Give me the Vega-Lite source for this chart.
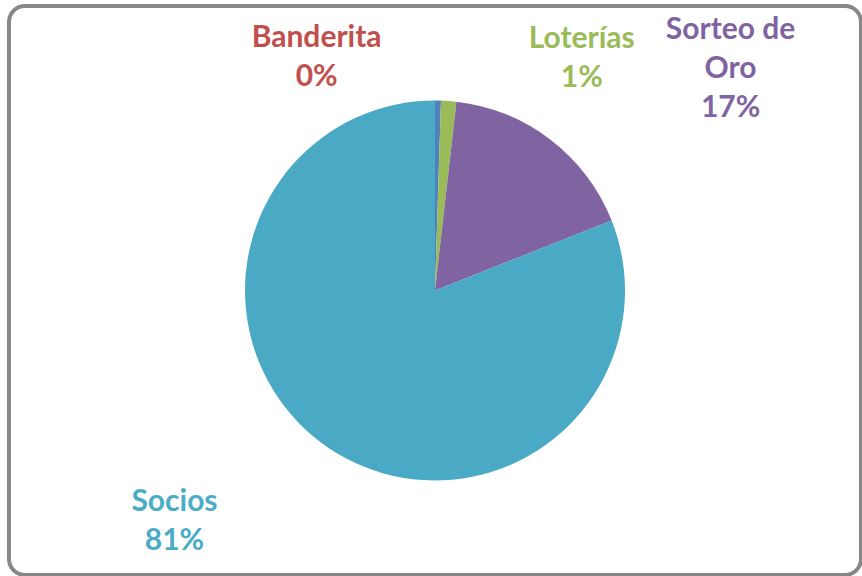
{
  "$schema": "https://vega.github.io/schema/vega-lite/v6.json",
  "autosize": {"type": "none"},
  "width": 852,
  "height": 569,
  "padding": {"left": 9, "top": 6, "right": 1, "bottom": 1},
  "background": "white",
  "config": {
    "view": {"stroke": null},
    "text": {"font": "Lato", "fontWeight": "bold", "fontSize": 30, "lineBreak": "\n", "lineHeight": 39}
  },
  "data": {
    "values": [
      {"idx": 1, "categoria": "Banderita", "porcentaje": 0.5, "label": "Banderita\n0%"},
      {"idx": 2, "categoria": "Loterías", "porcentaje": 1.3, "label": "Loterías\n1%"},
      {"idx": 3, "categoria": "Sorteo de Oro", "porcentaje": 17.2, "label": "Sorteo de\nOro\n17%"},
      {"idx": 4, "categoria": "Socios", "porcentaje": 81.0, "label": "Socios\n81%"}
    ]
  },
  "layer": [
    {
      "data": {"values": [{"marco": 1}]},
      "mark": {"type": "rect", "fill": null, "fillOpacity": 0, "stroke": "#878787", "strokeWidth": 4, "cornerRadius": 16},
      "encoding": {}
    },
    {
      "mark": {"type": "arc", "outerRadius": 190},
      "encoding": {
        "theta": {"field": "porcentaje", "type": "quantitative", "stack": true},
        "order": {"field": "idx", "type": "quantitative"},
        "color": {
          "field": "categoria",
          "type": "nominal",
          "scale": {
            "domain": ["Banderita", "Loterías", "Sorteo de Oro", "Socios"],
            "range": ["#4F81BD", "#9BBB59", "#8064A2", "#4AA9C4"]
          },
          "legend": null
        }
      }
    },
    {
      "mark": {"type": "text", "radius": 232, "dx": -122, "dy": -21, "color": "#C0504D"},
      "encoding": {
        "theta": {"field": "porcentaje", "type": "quantitative", "stack": true},
        "order": {"field": "idx", "type": "quantitative"},
        "text": {"condition": {"test": "datum.categoria === 'Banderita'", "field": "label"}, "value": ""}
      }
    },
    {
      "mark": {"type": "text", "radius": 232, "dx": 130, "dy": -20, "color": "#9BBB59"},
      "encoding": {
        "theta": {"field": "porcentaje", "type": "quantitative", "stack": true},
        "order": {"field": "idx", "type": "quantitative"},
        "text": {"condition": {"test": "datum.categoria === 'Loterías'", "field": "label"}, "value": ""}
      }
    },
    {
      "mark": {"type": "text", "radius": 274, "dx": 129, "dy": -43, "color": "#8064A2"},
      "encoding": {
        "theta": {"field": "porcentaje", "type": "quantitative", "stack": true},
        "order": {"field": "idx", "type": "quantitative"},
        "text": {"condition": {"test": "datum.categoria === 'Sorteo de Oro'", "field": "label"}, "value": ""}
      }
    },
    {
      "mark": {"type": "text", "radius": 282, "dx": -102, "dy": -22, "color": "#4BACC6"},
      "encoding": {
        "theta": {"field": "porcentaje", "type": "quantitative", "stack": true},
        "order": {"field": "idx", "type": "quantitative"},
        "text": {"condition": {"test": "datum.categoria === 'Socios'", "field": "label"}, "value": ""}
      }
    }
  ]
}
